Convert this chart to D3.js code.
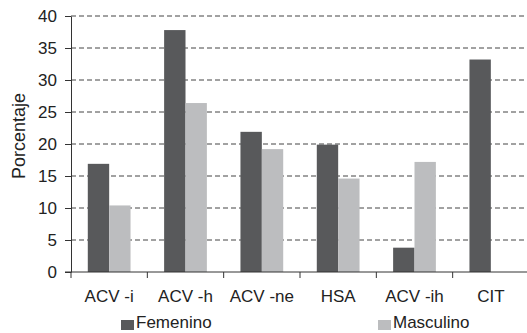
<!DOCTYPE html>
<html>
<head>
<meta charset="utf-8">
<script src="https://cdn.jsdelivr.net/npm/d3@7"></script>
<style>
  body { margin: 0; background: #fff; }
  text { font-family: "Liberation Sans", Arial, sans-serif; }
</style>
</head>
<body>
<svg id="chart" width="527" height="333"></svg>
<script>
const categories = ["ACV -i", "ACV -h", "ACV -ne", "HSA", "ACV -ih", "CIT"];
const femenino = [16.9, 37.8, 21.9, 19.9, 3.8, 33.2];
const masculino = [10.4, 26.4, 19.2, 14.6, 17.2, 0];
const seriesNames = ["Femenino", "Masculino"];
const yTicks = [0, 5, 10, 15, 20, 25, 30, 35, 40];

let svg = d3.select("#chart"),
  margin = { left: 71, top: 16, right: -2, bottom: 61 },
  width = 527 - margin.left - margin.right,
  height = 333 - margin.top - margin.bottom,
  g = svg.append("g").attr("transform", "translate(" + margin.left + "," + margin.top + ")");

let colors = ["#58595b", "#bcbdbf"];

let x = d3.scaleBand().domain(categories).range([0, width]).paddingInner(0.44).paddingOuter(0.22);
let x1 = d3.scaleBand().domain(seriesNames).range([0, x.bandwidth()]);
let y = d3.scaleLinear().domain([0, 40]).range([height, 0]);

// dashed gridlines
g.selectAll(".grid")
  .data(yTicks.filter((d) => d > 0))
  .enter()
  .append("line")
  .attr("x1", 0)
  .attr("x2", width)
  .attr("y1", (d) => y(d))
  .attr("y2", (d) => y(d))
  .attr("stroke", "#444")
  .attr("stroke-width", 1)
  .attr("stroke-dasharray", "5,3");

// bars
let data = categories.map((c, i) => ({ cat: c, values: [femenino[i], masculino[i]] }));
let groups = g.selectAll(".grp")
  .data(data)
  .enter()
  .append("g")
  .attr("transform", (d) => "translate(" + x(d.cat) + ",0)");

groups.selectAll("rect")
  .data((d) => d.values.map((v, i) => ({ key: seriesNames[i], value: v })))
  .enter()
  .filter((d) => d.value > 0)
  .append("rect")
  .attr("x", (d) => x1(d.key))
  .attr("width", x1.bandwidth())
  .attr("y", (d) => y(d.value))
  .attr("height", (d) => height - y(d.value))
  .attr("fill", (d) => colors[seriesNames.indexOf(d.key)]);

// y axis
let yAxis = g.append("g")
  .call(d3.axisLeft(y).tickValues(yTicks).tickSize(6).tickSizeOuter(0));
yAxis.select(".domain").attr("stroke", "#333");
yAxis.selectAll(".tick line").attr("stroke", "#333");
yAxis.selectAll("text").attr("font-size", "17px").attr("fill", "#222").attr("x", -14);

// x axis
let step = x.step();
let xAxis = g.append("g").attr("transform", "translate(0," + height + ")");
xAxis.append("line")
  .attr("x1", -6).attr("x2", width)
  .attr("stroke", "#333");
xAxis.selectAll(".xt")
  .data(d3.range(categories.length + 1))
  .enter()
  .append("line")
  .attr("x1", (d) => d * step)
  .attr("x2", (d) => d * step)
  .attr("y1", 0)
  .attr("y2", 6)
  .attr("stroke", "#333");
xAxis.selectAll(".xl")
  .data(categories)
  .enter()
  .append("text")
  .attr("x", (d) => x(d) + x.bandwidth() / 2)
  .attr("y", 30)
  .attr("text-anchor", "middle")
  .attr("font-size", "17px")
  .attr("fill", "#222")
  .text((d) => d);

// y label
svg.append("text")
  .attr("transform", "translate(25,136) rotate(-90)")
  .attr("text-anchor", "middle")
  .attr("font-size", "18px")
  .attr("fill", "#222")
  .text("Porcentaje");

// legend
let legendX = [121, 378];
let legend = svg.selectAll(".leg")
  .data(seriesNames)
  .enter()
  .append("g")
  .attr("transform", (d, i) => "translate(" + legendX[i] + ",318)");
legend.append("rect").attr("width", 13).attr("height", 10).attr("y", 2).attr("fill", (d, i) => colors[i]);
legend.append("text")
  .attr("x", 15)
  .attr("y", 10)
  .attr("font-size", "17px")
  .attr("fill", "#222")
  .text((d) => d);
</script>
</body>
</html>
